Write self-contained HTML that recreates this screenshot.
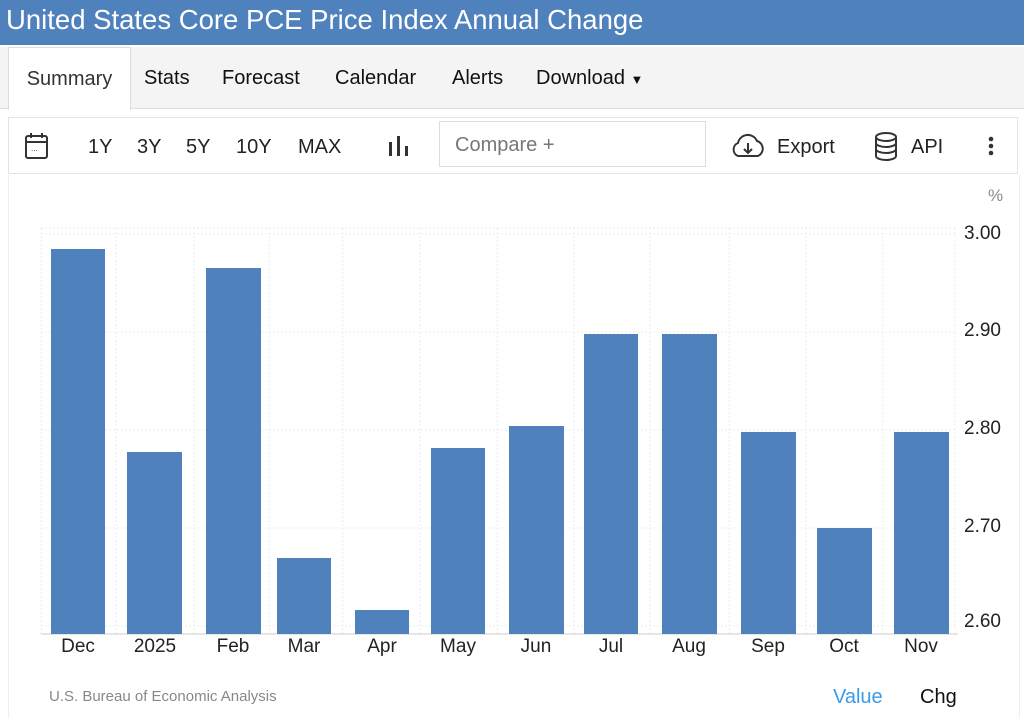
<!DOCTYPE html>
<html><head><meta charset="utf-8"><style>
body{margin:0;width:1024px;height:718px;background:#fff;font-family:"Liberation Sans",Arial,sans-serif;overflow:hidden;position:relative}
.hdr{position:absolute;left:0;top:0;width:1024px;height:45px;background:#4f81bd;color:#fff;font-size:27.5px;line-height:40px;padding-left:6px;box-sizing:border-box}
.tabs{position:absolute;left:0;top:47px;width:1024px;height:61px;background:#f4f4f4;border-bottom:1px solid #ddd}
.tab{position:absolute;top:0;line-height:62px;font-size:20px;color:#111}
.sum{left:8px;width:121px;background:#fff;border:1px solid #ddd;border-bottom:none;height:62px;text-align:center;color:#333}
.tb{position:absolute;left:8px;top:117px;width:1010px;height:57px;border:1px solid #e3e3e3;box-sizing:border-box}
.t{position:absolute;top:17px;font-size:20px;color:#222}
.cmp{position:absolute;left:439px;top:121px;width:267px;height:46px;border:1px solid #ddd;box-sizing:border-box;font-size:20px;color:#777;padding:12px 0 0 15px}
.ax{position:absolute;font-size:19px;color:#222}
.xl{position:absolute;top:636px;font-size:19px;color:#222;width:70px;text-align:center}
</style></head><body>
<div class="hdr">United States Core PCE Price Index Annual Change</div>
<div class="tabs">
<div class="tab sum">Summary</div>
<div class="tab" style="left:144px">Stats</div>
<div class="tab" style="left:222px">Forecast</div>
<div class="tab" style="left:335px">Calendar</div>
<div class="tab" style="left:452px">Alerts</div>
<div class="tab" style="left:536px">Download <span style="font-size:13px">▼</span></div>
</div>
<div class="tb"></div>
<svg style="position:absolute;left:24px;top:132px" width="26" height="28"><rect x="2" y="4" width="21" height="22" rx="2" fill="none" stroke="#333" stroke-width="2"/><line x1="2" y1="10" x2="23" y2="10" stroke="#333" stroke-width="2"/><line x1="7" y1="1" x2="7" y2="6" stroke="#333" stroke-width="2"/><line x1="18" y1="1" x2="18" y2="6" stroke="#333" stroke-width="2"/><text x="7" y="19" font-size="8" fill="#333">...</text></svg>
<div class="t" style="left:88px;top:136px">1Y</div>
<div class="t" style="left:137px;top:136px">3Y</div>
<div class="t" style="left:186px;top:136px">5Y</div>
<div class="t" style="left:236px;top:136px">10Y</div>
<div class="t" style="left:298px;top:136px">MAX</div>
<svg style="position:absolute;left:388px;top:134px" width="22" height="24"><rect x="1" y="8" width="3" height="14" fill="#333"/><rect x="9" y="2" width="3" height="20" fill="#333"/><rect x="17" y="12" width="3" height="10" fill="#333"/></svg>
<div class="cmp">Compare +</div>
<svg style="position:absolute;left:730px;top:132px" width="36" height="28"><path d="M8 24 A7 7 0 0 1 8 11 A10 10 0 0 1 27 9 A8 8 0 0 1 28 24 Z" fill="none" stroke="#333" stroke-width="2"/><line x1="18" y1="11" x2="18" y2="21" stroke="#333" stroke-width="2"/><path d="M14 17 L18 21 L22 17" fill="none" stroke="#333" stroke-width="2"/></svg>
<div class="t" style="left:777px;top:136px">Export</div>
<svg style="position:absolute;left:874px;top:132px" width="26" height="30"><ellipse cx="12" cy="5" rx="10" ry="4" fill="none" stroke="#333" stroke-width="2"/><path d="M2 5 V24 A10 4 0 0 0 22 24 V5 M2 11 A10 4 0 0 0 22 11 M2 17 A10 4 0 0 0 22 17" fill="none" stroke="#333" stroke-width="2"/></svg>
<div class="t" style="left:911px;top:136px">API</div>
<svg style="position:absolute;left:987px;top:135px" width="8" height="24"><circle cx="4" cy="4" r="2.3" fill="#333"/><circle cx="4" cy="11" r="2.3" fill="#333"/><circle cx="4" cy="18" r="2.3" fill="#333"/></svg>
<div style="position:absolute;left:8px;top:175px;width:1010px;height:543px;border-left:1px solid #eee;border-right:1px solid #eee"></div>
<div class="ax" style="left:988px;top:186px;font-size:17px;color:#888">%</div>
<svg style="position:absolute;left:0;top:0" width="1024" height="718">
<g stroke="#ececec" stroke-dasharray="2,2">
<line x1="41" y1="228" x2="955" y2="228"/><line x1="41" y1="234" x2="955" y2="234"/><line x1="41" y1="332" x2="955" y2="332"/><line x1="41" y1="430" x2="955" y2="430"/><line x1="41" y1="528" x2="955" y2="528"/><line x1="41" y1="626" x2="955" y2="626"/>
<line x1="41" y1="228" x2="41" y2="634"/><line x1="116" y1="228" x2="116" y2="634"/><line x1="194" y1="228" x2="194" y2="634"/><line x1="269" y1="228" x2="269" y2="634"/><line x1="343" y1="228" x2="343" y2="634"/><line x1="420" y1="228" x2="420" y2="634"/><line x1="497" y1="228" x2="497" y2="634"/><line x1="574" y1="228" x2="574" y2="634"/><line x1="650" y1="228" x2="650" y2="634"/><line x1="729" y1="228" x2="729" y2="634"/><line x1="806" y1="228" x2="806" y2="634"/><line x1="883" y1="228" x2="883" y2="634"/><line x1="955" y1="228" x2="955" y2="634"/>
</g>
<line x1="41" y1="634" x2="958" y2="634" stroke="#ccc"/>
<g fill="#4f81bd">
<rect x="51" y="249" width="54" height="385"/><rect x="127" y="452" width="55" height="182"/><rect x="206" y="268" width="55" height="366"/><rect x="277" y="558" width="54" height="76"/><rect x="355" y="610" width="54" height="24"/><rect x="431" y="448" width="54" height="186"/><rect x="509" y="426" width="55" height="208"/><rect x="584" y="334" width="54" height="300"/><rect x="662" y="334" width="55" height="300"/><rect x="741" y="432" width="55" height="202"/><rect x="817" y="528" width="55" height="106"/><rect x="894" y="432" width="55" height="202"/>
</g>
</svg>
<div class="ax" style="left:964px;top:223px">3.00</div>
<div class="ax" style="left:964px;top:320px">2.90</div>
<div class="ax" style="left:964px;top:418px">2.80</div>
<div class="ax" style="left:964px;top:516px">2.70</div>
<div class="ax" style="left:964px;top:611px">2.60</div>
<div class="xl" style="left:43px">Dec</div><div class="xl" style="left:120px">2025</div><div class="xl" style="left:198px">Feb</div><div class="xl" style="left:269px">Mar</div><div class="xl" style="left:347px">Apr</div><div class="xl" style="left:423px">May</div><div class="xl" style="left:501px">Jun</div><div class="xl" style="left:576px">Jul</div><div class="xl" style="left:654px">Aug</div><div class="xl" style="left:733px">Sep</div><div class="xl" style="left:809px">Oct</div><div class="xl" style="left:886px">Nov</div>
<div style="position:absolute;left:49px;top:688px;font-size:15px;color:#888">U.S. Bureau of Economic Analysis</div>
<div style="position:absolute;left:833px;top:686px;font-size:20px;color:#3c9ae8">Value</div>
<div style="position:absolute;left:920px;top:686px;font-size:20px;color:#111">Chg</div>
</body></html>
